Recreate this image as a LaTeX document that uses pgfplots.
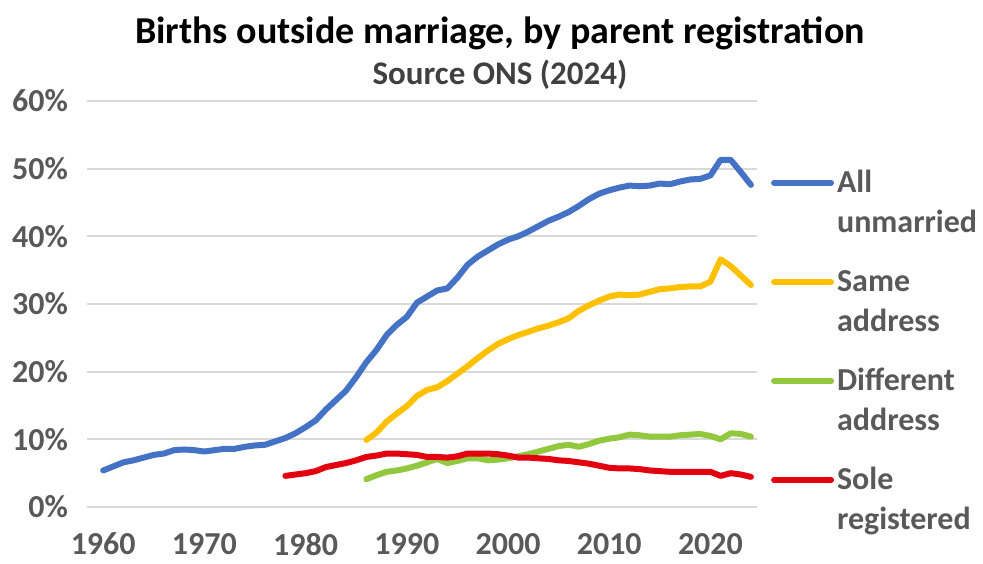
\documentclass[border=0pt]{standalone}
\usepackage{fontspec}
\setmainfont{Carlito}
\usepackage{pgfplots}
\usepackage{pgfplotstable}
\pgfplotsset{compat=1.18}
\definecolor{cBlue}{HTML}{4472C4}
\definecolor{cGold}{HTML}{FFC000}
\definecolor{cGreen}{HTML}{92C83E}
\definecolor{cRed}{HTML}{E3000F}
\definecolor{txt}{HTML}{595959}
\definecolor{gridc}{HTML}{D9D9D9}

% all births outside marriage, %
\pgfplotstableread{
year val
1960 5.4
1961 6.0
1962 6.6
1963 6.9
1964 7.3
1965 7.7
1966 7.9
1967 8.4
1968 8.5
1969 8.4
1970 8.2
1971 8.4
1972 8.6
1973 8.6
1974 8.9
1975 9.1
1976 9.2
1977 9.7
1978 10.2
1979 10.9
1980 11.8
1981 12.8
1982 14.4
1983 15.8
1984 17.2
1985 19.2
1986 21.4
1987 23.2
1988 25.4
1989 26.9
1990 28.1
1991 30.2
1992 31.1
1993 32.0
1994 32.3
1995 33.9
1996 35.8
1997 37.0
1998 37.9
1999 38.8
2000 39.5
2001 40.0
2002 40.7
2003 41.5
2004 42.3
2005 42.9
2006 43.6
2007 44.5
2008 45.5
2009 46.3
2010 46.8
2011 47.2
2012 47.5
2013 47.4
2014 47.5
2015 47.8
2016 47.7
2017 48.1
2018 48.4
2019 48.5
2020 49.0
2021 51.3
2022 51.3
2023 49.5
2024 47.6
}\allunmarried

\pgfplotstableread{
year val
1986 9.9
1987 11.0
1988 12.6
1989 13.8
1990 14.9
1991 16.4
1992 17.3
1993 17.7
1994 18.6
1995 19.7
1996 20.8
1997 22.0
1998 23.1
1999 24.1
2000 24.8
2001 25.4
2002 25.9
2003 26.4
2004 26.8
2005 27.3
2006 27.9
2007 29.0
2008 29.8
2009 30.5
2010 31.1
2011 31.4
2012 31.3
2013 31.4
2014 31.8
2015 32.2
2016 32.3
2017 32.5
2018 32.6
2019 32.6
2020 33.3
2021 36.6
2022 35.6
2023 34.2
2024 32.8
}\sameaddr

\pgfplotstableread{
year val
1986 4.1
1987 4.7
1988 5.2
1989 5.4
1990 5.7
1991 6.1
1992 6.6
1993 7.1
1994 6.5
1995 6.8
1996 7.2
1997 7.2
1998 6.9
1999 7.0
2000 7.2
2001 7.5
2002 7.8
2003 8.2
2004 8.6
2005 9.0
2006 9.2
2007 8.9
2008 9.3
2009 9.8
2010 10.1
2011 10.3
2012 10.7
2013 10.6
2014 10.4
2015 10.4
2016 10.4
2017 10.6
2018 10.7
2019 10.8
2020 10.5
2021 10.0
2022 10.9
2023 10.8
2024 10.4
}\diffaddr

\pgfplotstableread{
year val
1978 4.6
1979 4.8
1980 5.0
1981 5.3
1982 5.9
1983 6.2
1984 6.5
1985 6.9
1986 7.4
1987 7.6
1988 7.9
1989 7.9
1990 7.8
1991 7.7
1992 7.4
1993 7.4
1994 7.3
1995 7.5
1996 7.9
1997 7.9
1998 7.9
1999 7.8
2000 7.6
2001 7.3
2002 7.3
2003 7.2
2004 7.1
2005 6.9
2006 6.8
2007 6.6
2008 6.4
2009 6.1
2010 5.8
2011 5.7
2012 5.7
2013 5.6
2014 5.4
2015 5.3
2016 5.2
2017 5.2
2018 5.2
2019 5.2
2020 5.2
2021 4.6
2022 5.0
2023 4.8
2024 4.45
}\solereg

\newcommand{\two}[2]{\begin{tabular}[t]{@{}l@{}}#1\\#2\end{tabular}}

\begin{document}
\begin{tikzpicture}
\useasboundingbox (-43.5pt,-28pt) rectangle (448pt,253.5pt);
\begin{axis}[
  scale only axis, width=335pt, height=203pt,
  xmin=1958.4, xmax=2024.6, ymin=0, ymax=60,
  axis line style={draw=none}, major tick length=0pt,
  xtick={1960,1970,...,2020}, ytick={0,10,...,60},
  ymajorgrids, grid style={gridc, line width=1pt},
  /pgf/number format/assume math mode=true,
  /pgf/number format/1000 sep={},
  yticklabel={\pgfmathprintnumber{\tick}\%},
  tick label style={font=\fontsize{16}{19}\selectfont\bfseries, text=txt},
  yticklabel style={xshift=-6pt},
  xticklabel style={yshift=-9.5pt},
  every axis plot/.append style={line width=3pt, line join=round, line cap=round},
  legend image code/.code={\draw[#1] (0pt,-1.3pt) -- (28.5pt,-1.3pt);},
  legend style={draw=none, fill=none, inner sep=0pt, outer sep=0pt,
    at={(1.021,0.843)}, anchor=north west, row sep=34pt, column sep=1.5pt,
    nodes={inner sep=0pt, outer sep=0pt},
    font=\fontsize{16}{20}\selectfont\bfseries, text=txt},
  legend cell align=left,
]
\addplot[cBlue] table[x=year, y=val] {\allunmarried};
\addlegendentry{\two{All}{unmarried}}
\addplot[cGold] table[x=year, y=val] {\sameaddr};
\addlegendentry{\two{Same}{address}}
\addplot[cGreen] table[x=year, y=val] {\diffaddr};
\addlegendentry{\two{Different}{address}}
\addplot[cRed] table[x=year, y=val] {\solereg};
\addlegendentry{\two{Sole}{registered}}
\end{axis}
\node[font=\fontsize{19}{22}\selectfont\bfseries] at (206.5pt,237pt) {Births outside marriage, by parent registration};
\node[font=\fontsize{16.5}{20}\selectfont\bfseries, text=black!75] at (206.5pt,216pt) {Source ONS (2024)};
\end{tikzpicture}
\end{document}
